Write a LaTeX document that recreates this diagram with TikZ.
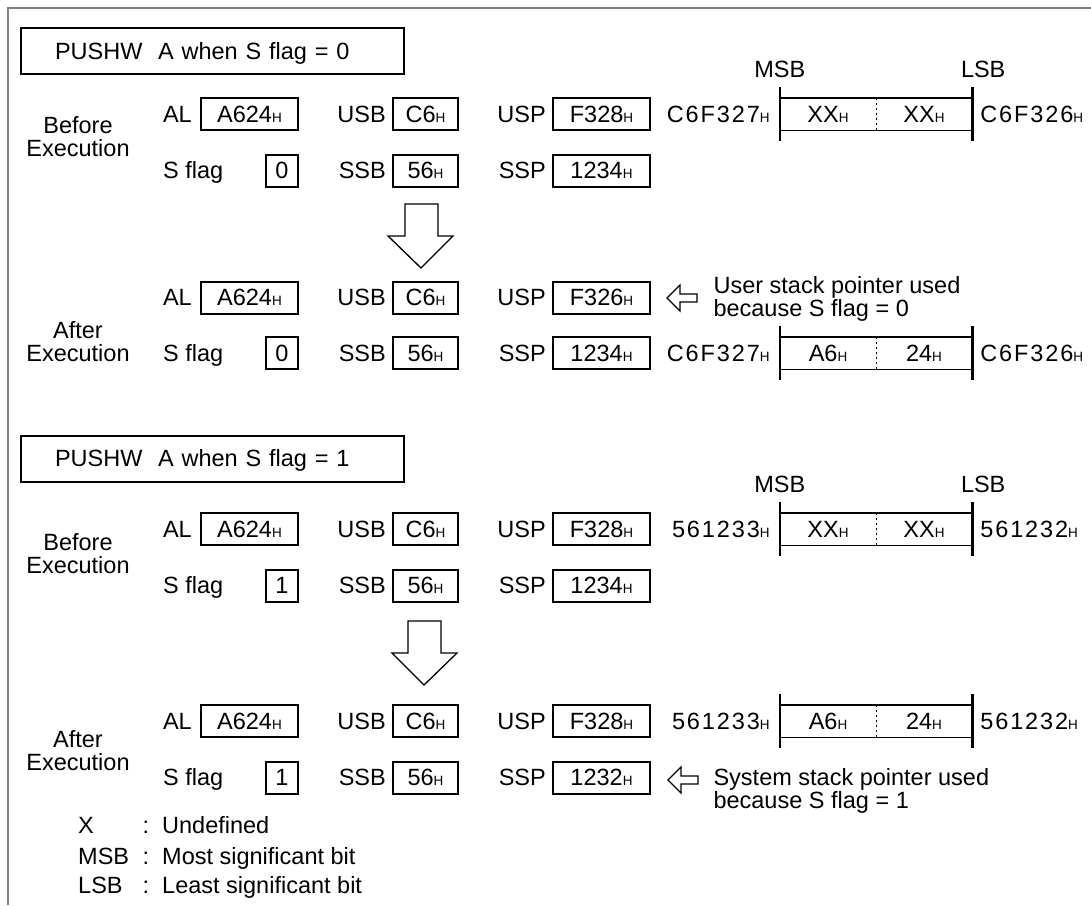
\documentclass[tikz,border=0pt]{standalone}
\usepackage{fontspec}
\setmainfont{Liberation Sans}
\usetikzlibrary{positioning}
\newcommand\hx{{\fontsize{13.5}{13.5}\selectfont H}}
\newcommand\addr[1]{{\addfontfeature{LetterSpace=8}#1}\hx}

\begin{document}
\begin{tikzpicture}[x=1pt,y=-1pt,font=\fontsize{23.5}{23}\selectfont,
  txt/.style={inner sep=0pt,text height=16.8pt,text depth=0pt},
  lbl/.style={txt},
  regbox/.style={txt,draw,line width=2pt,minimum height=32pt},
  widereg/.style={regbox,minimum width=97pt},
  midreg/.style={regbox,minimum width=65pt},
  bitreg/.style={regbox,minimum width=32pt},
  titlebox/.style={draw,line width=2pt,minimum height=46pt,text width=315pt,
    inner xsep=34pt,inner ysep=0pt,align=left,text height=16.8pt,text depth=0pt},
  cell/.style={txt,minimum width=96pt,minimum height=32pt},
  stackln/.style={line width=1.4pt},
  edgeln/.style={line width=2.6pt},
  midln/.style={line width=0.9pt,dash pattern=on 2.5pt off 2.5pt},
  bigarrow/.style={draw,line width=1.3pt,line join=miter},
  hollow/.style={draw,line width=1.2pt,line join=miter},
  frameln/.style={draw=black!50,line width=2pt}]
  \useasboundingbox (0,0) rectangle (1091,905);
  \draw[frameln] (8,905) -- (8,8) -- (1091,8);

  % ---- S flag = 0, before
  \node[titlebox] (tit1) at (212.5,51) {PUSHW\ \ A when S flag = 0};
  \node[anchor=north,align=center] (bef1) at (78,113) {Before\\Execution};
  \node[widereg] (al1) at (249.5,114) {A624\hx};
  \node[lbl,left=8pt of al1] (lal1) {AL};
  \node[midreg] (usb1) at (425.5,114) {C6\hx};
  \node[lbl,left=6pt of usb1] (lusb1) {USB};
  \node[widereg] (usp1) at (601.5,114) {F328\hx};
  \node[lbl,left=6pt of usp1] (lusp1) {USP};
  \node[bitreg] (sf1) at (282,170.5) {0};
  \node[lbl,anchor=west] (lsf1) at (163,170.5) {S flag};
  \node[midreg] (ssb1) at (425.5,170.5) {56\hx};
  \node[lbl,left=6pt of ssb1] (lssb1) {SSB};
  \node[widereg] (ssp1) at (601.5,170.5) {1234\hx};
  \node[lbl,left=6pt of ssp1] (lssp1) {SSP};
  \node[cell] (hi1) at (828,114) {XX\hx};
  \node[cell] (lo1) at (924,114) {XX\hx};
  \draw[stackln] (hi1.north west) -- (lo1.north east) (hi1.south west) -- (lo1.south east);
  \draw[midln] (hi1.north east) -- (hi1.south east);
  \draw[edgeln] ([yshift=11pt]hi1.north west) -- ([yshift=-11pt]hi1.south west);
  \draw[edgeln] ([yshift=11pt]lo1.north east) -- ([yshift=-11pt]lo1.south east);
  \node[lbl,left=10pt of hi1] (ahi1) {\addr{C6F327}};
  \node[lbl,right=8pt of lo1] (alo1) {\addr{C6F326}};
  \node[lbl,above=20pt of hi1.north west] (msb1) {MSB};
  \node[lbl,above=20pt of lo1.north east,xshift=11pt] (lsb1) {LSB};

  \draw[bigarrow] (405,204) -- (438,204) -- (438,236) -- (453,236) -- (421,268) -- (388,236) -- (405,236) -- cycle;

  % ---- S flag = 0, after
  \node[anchor=north,align=center] (aft1) at (78,318) {After\\Execution};
  \node[widereg] (al2) at (249.5,297.5) {A624\hx};
  \node[lbl,left=8pt of al2] (lal2) {AL};
  \node[midreg] (usb2) at (425.5,297.5) {C6\hx};
  \node[lbl,left=6pt of usb2] (lusb2) {USB};
  \node[widereg] (usp2) at (601.5,297.5) {F326\hx};
  \node[lbl,left=6pt of usp2] (lusp2) {USP};
  \draw[hollow] (667,298) -- ++(13,-13) -- ++(0,9) -- ++(17,0) -- ++(0,8) -- ++(-17,0) -- ++(0,9) -- cycle;
  \node[anchor=north west,align=left] (note1) at (710,273) {User stack pointer used\\because S flag = 0};
  \node[bitreg] (sf2) at (282,353) {0};
  \node[lbl,anchor=west] (lsf2) at (163,353) {S flag};
  \node[midreg] (ssb2) at (425.5,353) {56\hx};
  \node[lbl,left=6pt of ssb2] (lssb2) {SSB};
  \node[widereg] (ssp2) at (601.5,353) {1234\hx};
  \node[lbl,left=6pt of ssp2] (lssp2) {SSP};
  \node[cell] (hi2) at (828,353) {A6\hx};
  \node[cell] (lo2) at (924,353) {24\hx};
  \draw[stackln] (hi2.north west) -- (lo2.north east) (hi2.south west) -- (lo2.south east);
  \draw[midln] (hi2.north east) -- (hi2.south east);
  \draw[edgeln] ([yshift=11pt]hi2.north west) -- ([yshift=-11pt]hi2.south west);
  \draw[edgeln] ([yshift=11pt]lo2.north east) -- ([yshift=-11pt]lo2.south east);
  \node[lbl,left=10pt of hi2] (ahi2) {\addr{C6F327}};
  \node[lbl,right=8pt of lo2] (alo2) {\addr{C6F326}};

  % ---- S flag = 1, before
  \node[titlebox] (tit2) at (212.5,458.5) {PUSHW\ \ A when S flag = 1};
  \node[anchor=north,align=center] (bef2) at (78,530) {Before\\Execution};
  \node[widereg] (al3) at (249.5,529) {A624\hx};
  \node[lbl,left=8pt of al3] (lal3) {AL};
  \node[midreg] (usb3) at (425.5,529) {C6\hx};
  \node[lbl,left=6pt of usb3] (lusb3) {USB};
  \node[widereg] (usp3) at (601.5,529) {F328\hx};
  \node[lbl,left=6pt of usp3] (lusp3) {USP};
  \node[bitreg] (sf3) at (282,585.5) {1};
  \node[lbl,anchor=west] (lsf3) at (163,585.5) {S flag};
  \node[midreg] (ssb3) at (425.5,585.5) {56\hx};
  \node[lbl,left=6pt of ssb3] (lssb3) {SSB};
  \node[widereg] (ssp3) at (601.5,585.5) {1234\hx};
  \node[lbl,left=6pt of ssp3] (lssp3) {SSP};
  \node[cell] (hi3) at (828,529) {XX\hx};
  \node[cell] (lo3) at (924,529) {XX\hx};
  \draw[stackln] (hi3.north west) -- (lo3.north east) (hi3.south west) -- (lo3.south east);
  \draw[midln] (hi3.north east) -- (hi3.south east);
  \draw[edgeln] ([yshift=11pt]hi3.north west) -- ([yshift=-11pt]hi3.south west);
  \draw[edgeln] ([yshift=11pt]lo3.north east) -- ([yshift=-11pt]lo3.south east);
  \node[lbl,left=10pt of hi3] (ahi3) {\addr{561233}};
  \node[lbl,right=8pt of lo3] (alo3) {\addr{561232}};
  \node[lbl,above=20pt of hi3.north west] (msb3) {MSB};
  \node[lbl,above=20pt of lo3.north east,xshift=11pt] (lsb3) {LSB};

  \draw[bigarrow] (408,621) -- (441,621) -- (441,653) -- (457,653) -- (424,685) -- (392,653) -- (408,653) -- cycle;

  % ---- S flag = 1, after
  \node[anchor=north,align=center] (aft2) at (78,727) {After\\Execution};
  \node[widereg] (al4) at (249.5,721) {A624\hx};
  \node[lbl,left=8pt of al4] (lal4) {AL};
  \node[midreg] (usb4) at (425.5,721) {C6\hx};
  \node[lbl,left=6pt of usb4] (lusb4) {USB};
  \node[widereg] (usp4) at (601.5,721) {F328\hx};
  \node[lbl,left=6pt of usp4] (lusp4) {USP};
  \node[cell] (hi4) at (828,721) {A6\hx};
  \node[cell] (lo4) at (924,721) {24\hx};
  \draw[stackln] (hi4.north west) -- (lo4.north east) (hi4.south west) -- (lo4.south east);
  \draw[midln] (hi4.north east) -- (hi4.south east);
  \draw[edgeln] ([yshift=11pt]hi4.north west) -- ([yshift=-11pt]hi4.south west);
  \draw[edgeln] ([yshift=11pt]lo4.north east) -- ([yshift=-11pt]lo4.south east);
  \node[lbl,left=10pt of hi4] (ahi4) {\addr{561233}};
  \node[lbl,right=8pt of lo4] (alo4) {\addr{561232}};
  \node[bitreg] (sf4) at (282,777.5) {1};
  \node[lbl,anchor=west] (lsf4) at (163,777.5) {S flag};
  \node[midreg] (ssb4) at (425.5,777.5) {56\hx};
  \node[lbl,left=6pt of ssb4] (lssb4) {SSB};
  \node[widereg] (ssp4) at (601.5,777.5) {1232\hx};
  \node[lbl,left=6pt of ssp4] (lssp4) {SSP};
  \draw[hollow] (668,780) -- ++(13,-13) -- ++(0,9) -- ++(17,0) -- ++(0,8) -- ++(-17,0) -- ++(0,9) -- cycle;
  \node[anchor=north west,align=left] (note2) at (710,765) {System stack pointer used\\because S flag = 1};

  % ---- key
  \node[lbl,anchor=west] (kx) at (78,825) {X};
  \node[lbl] (kxc) at (146,825) {:};
  \node[lbl,anchor=west] (kxd) at (162,825) {Undefined};
  \node[lbl,anchor=west] (km) at (78,856.5) {MSB};
  \node[lbl] (kmc) at (146,856.5) {:};
  \node[lbl,anchor=west] (kmd) at (162,856.5) {Most significant bit};
  \node[lbl,anchor=west] (kl) at (78,885) {LSB};
  \node[lbl] (klc) at (146,885) {:};
  \node[lbl,anchor=west] (kld) at (162,885) {Least significant bit};
\end{tikzpicture}
\end{document}
